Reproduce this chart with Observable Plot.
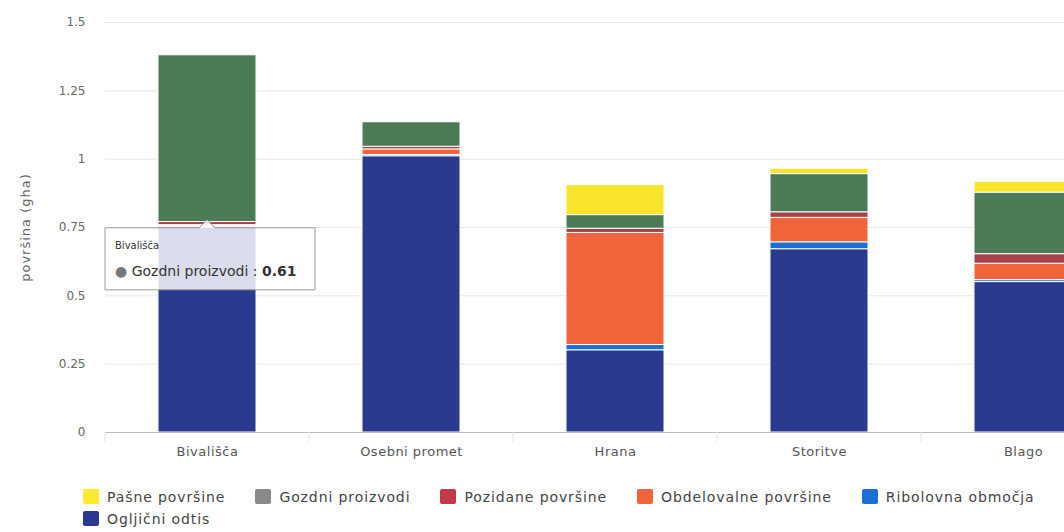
<!DOCTYPE html>
<html><head><meta charset="utf-8">
<script src="https://cdn.jsdelivr.net/npm/d3@7"></script>
<script src="https://cdn.jsdelivr.net/npm/@observablehq/plot@0.6"></script>
<style>
body{margin:0;background:#fff;font-family:"DejaVu Sans",sans-serif;overflow:hidden}
#wrap{position:relative;width:1064px;height:532px;overflow:hidden}
#chart{position:absolute;left:0;top:0}
#chart [aria-label="x-axis tick label"] text{letter-spacing:0.5px}
#chart [aria-label="y-axis label"] text{font-size:13px;letter-spacing:1px}
#legend{position:absolute;left:83px;top:488px;width:995px;display:flex;flex-wrap:wrap;row-gap:5px}
.item{display:flex;align-items:center;margin-right:30px;font-size:14px;letter-spacing:0.9px;color:#444;height:17px;white-space:nowrap}
.sw{width:16px;height:15px;border-radius:2px;margin-right:8px}
</style></head><body>
<div id="wrap"><div id="chart"></div><div id="legend"></div></div>
<script>
const categories = ["Bivališča", "Osebni promet", "Hrana", "Storitve", "Blago"];
const seriesNames = ["Pašne površine", "Gozdni proizvodi", "Pozidane površine", "Obdelovalne površine", "Ribolovna območja", "Ogljični odtis"];
const pasne       = [0.002, 0.0,   0.11,  0.02,  0.04];
const gozdni      = [0.61,  0.09,  0.05,  0.14,  0.225];
const pozidane    = [0.012, 0.01,  0.015, 0.02,  0.035];
const obdelovalne = [0.004, 0.02,  0.41,  0.09,  0.06];
const ribolovna   = [0.004, 0.005, 0.02,  0.025, 0.007];
const ogljicni    = [0.75,  1.01,  0.30,  0.67,  0.55];
const yTicks = [0, 0.25, 0.5, 0.75, 1, 1.25, 1.5];
const barColors    = ["#f9e42c", "#4b7b57", "#a8424a", "#f1633a", "#1c6fd3", "#2a3a8e"];
const legendColors = ["#fde92e", "#8a8a8a", "#c23a48", "#f1633a", "#1c6fd3", "#2a3a8e"];
const tipCategory = "Bivališča";
const tipSeries = "Gozdni proizvodi";
const tipValue = 0.61;

const seriesValues = [pasne, gozdni, pozidane, obdelovalne, ribolovna, ogljicni];
const rows = [];
seriesNames.forEach((s, si) => categories.forEach((c, ci) => rows.push({cat: c, series: s, value: seriesValues[si][ci]})));
const stackOrder = seriesNames.slice().reverse();
const tipBase = ogljicni[0] + ribolovna[0] + obdelovalne[0] + pozidane[0];

const overlay = (index, scales, values, dims) => {
  const g = d3.create("svg:g").attr("text-anchor", "start");
  const x = scales.x, y = scales.y;
  const bw = x.bandwidth ? x.bandwidth() : 98;
  const step = x.step ? x.step() : 204;
  const y0 = y(0);
  categories.forEach((c) => {
    const bx = x(c) + bw / 2 - step / 2;
    g.append("line").attr("x1", bx).attr("x2", bx).attr("y1", y0).attr("y2", y0 + 10)
      .attr("stroke", "#dde3ee").attr("stroke-width", 1);
  });
  const ax = x(tipCategory) + bw / 2;
  const ay = y(tipBase + 0.01);
  const t = g.append("g").attr("transform", `translate(${ax},${ay})`);
  const L = -102, R = 108, T = 9, B = 71;
  t.append("path")
    .attr("d", `M${L},${T}H-8L0,1L8,${T}H${R}V${B}H${L}Z`)
    .attr("fill", "#fff").attr("fill-opacity", 0.83)
    .attr("stroke", "#9a9a9a").attr("stroke-width", 1);
  t.append("text").attr("x", L + 10).attr("y", T + 21).attr("font-size", 10).attr("fill", "#333").text(tipCategory);
  const tx = t.append("text").attr("x", L + 10).attr("y", T + 48).attr("font-size", 14).attr("fill", "#333");
  tx.append("tspan").attr("fill", "#777").text("● ");
  tx.append("tspan").text(tipSeries + " : ");
  tx.append("tspan").attr("font-weight", "bold").text(tipValue);
  return g.node();
};

const chart = Plot.plot({
  width: 1064,
  height: 470,
  marginTop: 22,
  marginBottom: 38,
  marginLeft: 105,
  marginRight: 0,
  style: {fontFamily: "DejaVu Sans, sans-serif", fontSize: "12px", color: "#666", background: "transparent"},
  x: {domain: categories, range: [105, 1125], paddingInner: 0.52, paddingOuter: 0.26, label: null},
  y: {domain: [0, 1.5], label: null},
  color: {domain: seriesNames, range: barColors},
  marks: [
    Plot.gridY(yTicks, {stroke: "#e6e6e6", strokeOpacity: 1}),
    Plot.axisY(yTicks, {tickSize: 0, tickPadding: 20, tickFormat: d => String(d), label: "površina (gha)", labelArrow: "none", labelAnchor: "center", labelOffset: 85, fontSize: 12}),
    Plot.axisX({tickSize: 0, tickPadding: 14, fontSize: 13, fill: "#555"}),
    Plot.barY(rows, {x: "cat", y: "value", fill: "series", order: stackOrder, stroke: "#fff", strokeWidth: 1}),
    Plot.ruleY([0], {stroke: "#bbbbbb"}),
    overlay
  ]
});
document.getElementById("chart").append(chart);

const legend = document.getElementById("legend");
seriesNames.forEach((s, i) => {
  const it = document.createElement("div");
  it.className = "item";
  const sw = document.createElement("span");
  sw.className = "sw";
  sw.style.background = legendColors[i];
  it.append(sw, document.createTextNode(s));
  legend.append(it);
});
</script>
</body></html>
